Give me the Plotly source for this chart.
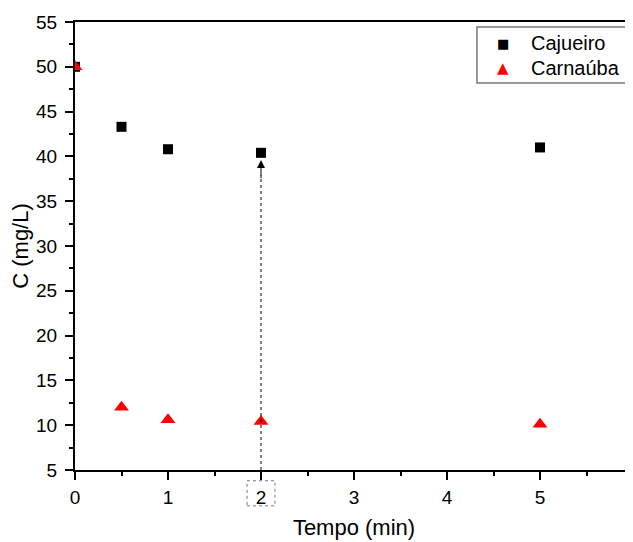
import plotly.graph_objects as go

tempo = [0, 0.5, 1, 2, 5]
cajueiro = [50.0, 43.3, 40.8, 40.4, 41.0]
carnauba = [50.0, 12.0, 10.6, 10.4, 10.1]

series_names = ["Cajueiro", "Carnaúba"]
series_colors = ["black", "#ff0000"]
legend_glyphs = ["■", "▲"]

x_range = [0, 6]
y_range = [5, 55]
marked_t = 2  # time highlighted by the arrow and boxed tick label

font = "Liberation Sans, Arial, sans-serif"

fig = go.Figure()
fig.add_trace(go.Scatter(
    x=tempo, y=cajueiro, mode="markers", name=series_names[0],
    marker=dict(symbol="square", size=10, color=series_colors[0]),
))
fig.add_trace(go.Scatter(
    x=tempo, y=carnauba, mode="markers", name=series_names[1],
    marker=dict(symbol="triangle-up", size=13, color=series_colors[1]),
))

# dotted guide line and arrow head pointing at the Cajueiro value at t=2
i = tempo.index(marked_t)
fig.add_shape(type="line", xref="x", yref="y",
              x0=marked_t, x1=marked_t, y0=y_range[0], y1=cajueiro[i] - 2.5,
              line=dict(color="black", width=1, dash="dot"))
fig.add_annotation(x=marked_t, y=cajueiro[i] - 0.8, ax=marked_t, ay=cajueiro[i] - 3,
                   xref="x", yref="y", axref="x", ayref="y",
                   showarrow=True, arrowhead=2, arrowsize=1.6, arrowwidth=1,
                   arrowcolor="black", text="")

# dashed box around the "2" tick label
span = x_range[1] - x_range[0]
fig.add_shape(type="rect", xref="paper", yref="paper",
              x0=(marked_t - 0.15) / span, x1=(marked_t + 0.15) / span,
              y0=-0.08, y1=-0.024,
              line=dict(color="#777777", width=1, dash="dot"))

# legend box drawn by hand (tighter rows than plotly's legend)
fig.add_shape(type="rect", xref="paper", yref="paper",
              x0=0.7204, x1=0.987, y0=0.8638, y1=0.9888,
              line=dict(color="#777777", width=1.5), fillcolor="white")
rows_y = [0.953, 0.897]
glyph_sizes = [13, 15]
for name, color, glyph, gsize, ry in zip(series_names, series_colors, legend_glyphs, glyph_sizes, rows_y):
    fig.add_annotation(x=0.767, y=ry, xref="paper", yref="paper", text=glyph,
                       showarrow=False, xanchor="center", yanchor="middle",
                       font=dict(family="DejaVu Sans", size=gsize, color=color))
    fig.add_annotation(x=0.814, y=ry, xref="paper", yref="paper", text=name,
                       showarrow=False, xanchor="left", yanchor="middle",
                       font=dict(family=font, size=20, color="black"))

axis_common = dict(
    showgrid=False, zeroline=False, automargin=False,
    showline=True, linecolor="black", linewidth=2, mirror=True,
    ticks="outside", ticklen=8, tickwidth=2, tickcolor="black",
    tickfont=dict(family=font, size=19, color="black"),
)

fig.update_xaxes(range=x_range, dtick=1, ticklabelstandoff=1,
                 minor=dict(ticks="outside", dtick=0.5, ticklen=4, tickwidth=2, tickcolor="black"),
                 title=dict(text="Tempo (min)", font=dict(family=font, size=22, color="black"), standoff=13),
                 **axis_common)
fig.update_yaxes(range=y_range, dtick=5, ticklabelstandoff=4,
                 minor=dict(ticks="outside", dtick=2.5, ticklen=4, tickwidth=2, tickcolor="black"),
                 title=dict(text="C (mg/L)", font=dict(family=font, size=22, color="black"), standoff=5),
                 **axis_common)

# the page body adds an 8px offset, so the plot area is set 8px up/left of its on-screen place
fig.update_layout(
    width=633, height=542,
    margin=dict(l=67, r=8, t=14, b=80),
    plot_bgcolor="white", paper_bgcolor="white",
    font=dict(family=font, color="black"),
    showlegend=False,
)

fig.write_html("out.html")
